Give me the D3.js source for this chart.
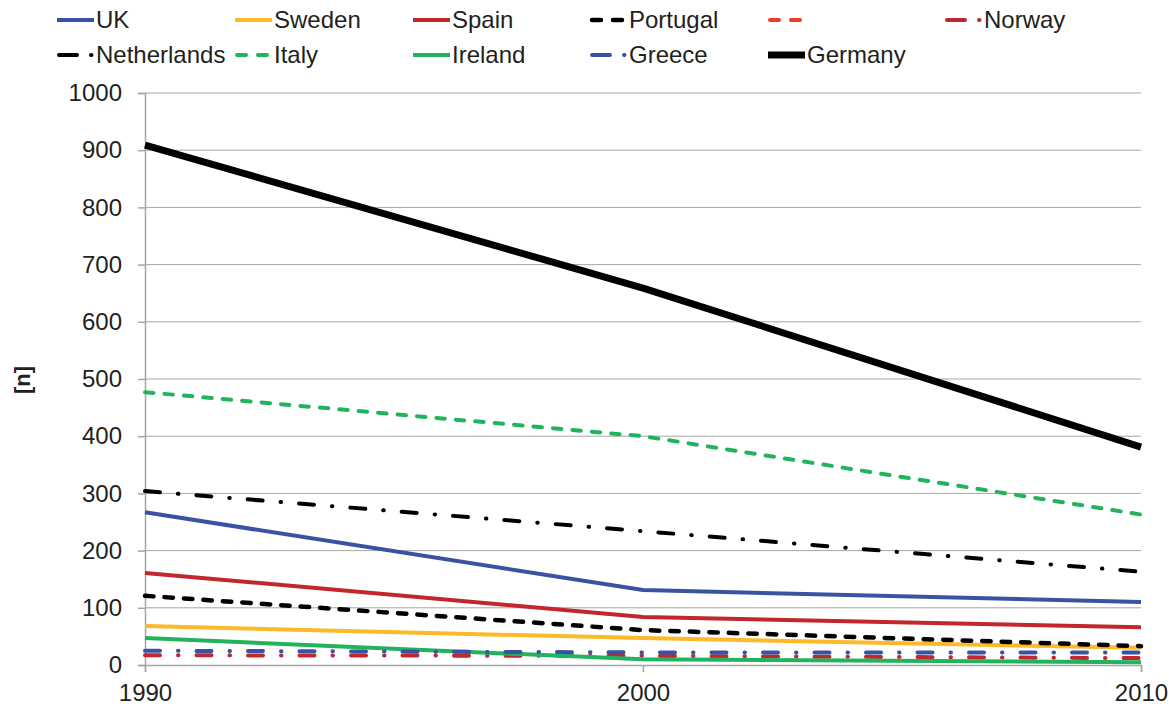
<!DOCTYPE html>
<html>
<head>
<meta charset="utf-8">
<script src="https://cdn.jsdelivr.net/npm/d3@7"></script>
<style>
  body { margin: 0; background: #fff; }
  text { font-family: "Liberation Sans", Arial, sans-serif; fill: #231f20; }
</style>
</head>
<body>
<svg id="chart" width="1173" height="709"></svg>
<script>
// Years on the x axis
const years = [1990, 2000, 2010];

// Series values per country, [n]
const uk          = [267, 131, 110];
const sweden      = [68, 47, 30];
const spain       = [161, 84, 66];
const portugal    = [121, 61, 33];
const unnamed     = [];
const norway      = [17, 16, 12];
const netherlands = [304, 234, 163];
const italy       = [477, 400, 263];
const ireland     = [47, 10, 5];
const greece      = [25, 22, 22];
const germany     = [909, 659, 381];

const yTicks = [0, 100, 200, 300, 400, 500, 600, 700, 800, 900, 1000];

// Line styles per series
const series = [
  { name: "UK",          values: uk,          color: "#3953a4", width: 4,   dash: null },
  { name: "Sweden",      values: sweden,      color: "#fdb92a", width: 4,   dash: null },
  { name: "Spain",       values: spain,       color: "#c1272d", width: 4,   dash: null },
  { name: "Portugal",    values: portugal,    color: "#000000", width: 4.5, dash: "8.5,11" },
  { name: "",            values: unnamed,     color: "#ef3b2c", width: 4,   dash: "8.5,11" },
  { name: "Norway",      values: norway,      color: "#c1272d", width: 4,   dash: "15,18,0.5,18" },
  { name: "Netherlands", values: netherlands, color: "#000000", width: 4,   dash: "15,18,0.5,18" },
  { name: "Italy",       values: italy,       color: "#22b35e", width: 4,   dash: "8.5,11" },
  { name: "Ireland",     values: ireland,     color: "#22b35e", width: 4,   dash: null },
  { name: "Greece",      values: greece,      color: "#3953a4", width: 4,   dash: "15,18,0.5,18" },
  { name: "Germany",     values: germany,     color: "#000000", width: 7,   dash: null }
];

const svg = d3.select("#chart");
const x = d3.scaleLinear().domain([1990, 2010]).range([145, 1141]);
const y = d3.scaleLinear().domain([0, 1000]).range([665, 93]);

// Horizontal gridlines
svg.append("g").selectAll("line")
  .data(yTicks.filter(t => t > 0))
  .join("line")
  .attr("x1", x(1990)).attr("x2", x(2010))
  .attr("y1", d => y(d)).attr("y2", d => y(d))
  .attr("stroke", "#a6a6a6").attr("stroke-width", 1);

// Y axis
const yAxis = svg.append("g")
  .attr("transform", `translate(${x(1990)},0)`)
  .call(d3.axisLeft(y).tickValues(yTicks).tickSize(7).tickPadding(16).tickFormat(d3.format("d")));
yAxis.select(".domain").attr("stroke", "#a6a6a6").attr("stroke-width", 1.5);
yAxis.selectAll(".tick line").attr("stroke", "#a6a6a6").attr("stroke-width", 1.5);
yAxis.selectAll(".tick text").attr("font-size", 24).style("fill", "#231f20")
  .attr("font-family", "Liberation Sans, Arial, sans-serif");

// X axis
const xAxis = svg.append("g")
  .attr("transform", `translate(0,${y(0)})`)
  .call(d3.axisBottom(x).tickValues(years).tickSize(7).tickPadding(12).tickFormat(d3.format("d")));
xAxis.select(".domain").attr("stroke", "#a6a6a6").attr("stroke-width", 1.5);
xAxis.selectAll(".tick line").attr("stroke", "#a6a6a6").attr("stroke-width", 1.5);
xAxis.selectAll(".tick text").attr("font-size", 24).style("fill", "#231f20")
  .attr("font-family", "Liberation Sans, Arial, sans-serif");

// Y axis title
svg.append("text")
  .attr("transform", `translate(30,380) rotate(-90)`)
  .attr("text-anchor", "middle")
  .attr("font-size", 22).attr("font-weight", "bold")
  .text("[n]");

// Series lines
const line = d3.line()
  .x((d, i) => x(years[i]))
  .y(d => y(d));

svg.append("g").selectAll("path")
  .data(series)
  .join("path")
  .attr("d", d => d.values.length ? line(d.values) : null)
  .attr("fill", "none")
  .attr("stroke", d => d.color)
  .attr("stroke-width", d => d.width)
  .attr("stroke-dasharray", d => d.dash)
  .attr("stroke-linecap", d => d.dash ? "round" : "butt")
  .attr("stroke-linejoin", "round");

// Legend: six columns, two rows
const colX = [57, 235, 413, 590, 768, 945];
const rowY = [20, 55];
const legend = svg.append("g").selectAll("g")
  .data(series)
  .join("g")
  .attr("transform", (d, i) => `translate(${colX[i % 6]},${rowY[Math.floor(i / 6)]})`);

legend.append("line")
  .attr("x1", d => d.dash ? 2 : 0).attr("x2", d => d.dash ? 35 : 37)
  .attr("y1", 0).attr("y2", 0)
  .attr("stroke", d => d.color)
  .attr("stroke-width", d => d.width)
  .attr("stroke-dasharray", d => d.dash ? (d.dash.split(",").length > 2 ? "18,14,0.5,30" : "9,12") : null)
  .attr("stroke-linecap", d => d.dash ? "round" : "butt");

legend.append("text")
  .attr("x", 39).attr("y", 0).attr("dy", "0.35em")
  .attr("font-size", 24)
  .text(d => d.name);
</script>
</body>
</html>
